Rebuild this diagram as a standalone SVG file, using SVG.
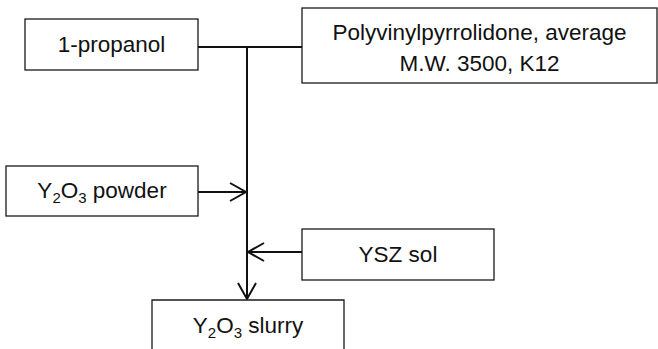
<svg xmlns="http://www.w3.org/2000/svg" width="658" height="349" viewBox="0 0 658 349">
<style>
.box{fill:#fff;stroke:#1a1a1a;stroke-width:1.3}
.t{font-family:"Liberation Sans",Arial,sans-serif;font-size:22.5px;fill:#111;text-anchor:middle}
.sub{font-size:15px}
.c{fill:none;stroke:#111;stroke-width:2}
</style>
<defs>
<marker id="ah" markerUnits="userSpaceOnUse" markerWidth="40" markerHeight="40" viewBox="-20 -20 40 40" refX="0" refY="0" orient="auto">
<path d="M-16,-9 L0,0 L-16,9" fill="none" stroke="#111" stroke-width="2"/>
</marker>
</defs>
<g id="connectors">
<path class="c" d="M198,47 H302"/>
<path class="c" d="M247,47 V299" marker-end="url(#ah)"/>
<path class="c" d="M198,192 H246" marker-end="url(#ah)"/>
<path class="c" d="M302,252 H248" marker-end="url(#ah)"/>
</g>
<g id="propanol">
<rect class="box" x="25" y="19" width="173" height="51"/>
<text class="t" x="111.5" y="52">1-propanol</text>
</g>
<g id="pvp">
<rect class="box" x="302" y="8" width="355" height="75"/>
<text class="t" x="479.5" y="40">Polyvinylpyrrolidone, average</text>
<text class="t" x="479.5" y="71">M.W. 3500, K12</text>
</g>
<g id="y2o3powder">
<rect class="box" x="6" y="166" width="192" height="50"/>
<text class="t" x="102" y="198">Y<tspan class="sub" dy="5">2</tspan><tspan dy="-5">O</tspan><tspan class="sub" dy="5">3</tspan><tspan dy="-5"> powder</tspan></text>
</g>
<g id="yszsol">
<rect class="box" x="302" y="229" width="192" height="51"/>
<text class="t" x="398" y="262">YSZ sol</text>
</g>
<g id="slurry">
<path class="box" d="M152,360 V300 H344 V360"/>
<text class="t" x="248" y="333">Y<tspan class="sub" dy="5">2</tspan><tspan dy="-5">O</tspan><tspan class="sub" dy="5">3</tspan><tspan dy="-5"> slurry</tspan></text>
</g>
</svg>
